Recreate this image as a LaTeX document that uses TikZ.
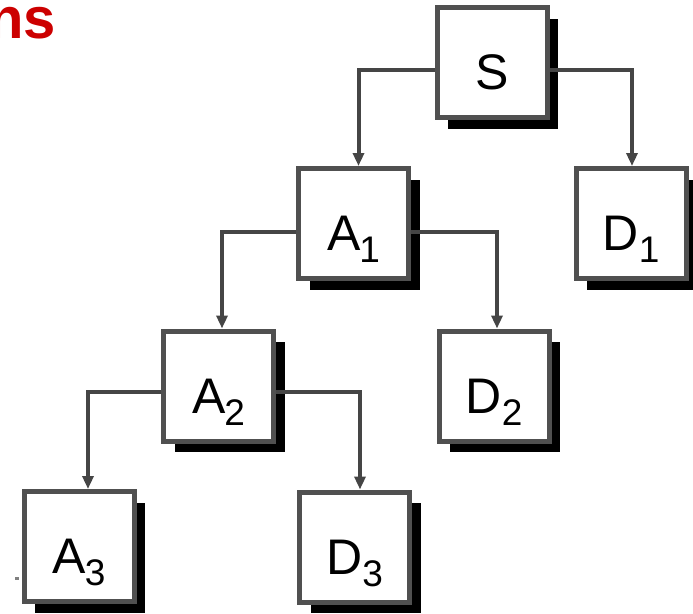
\documentclass[tikz,border=0pt]{standalone}
\usepackage{fontspec}
\setmainfont{Liberation Sans}
\usetikzlibrary{arrows.meta,shadows}
\definecolor{boxgray}{HTML}{505050}
\definecolor{linegray}{HTML}{454545}
\definecolor{titlered}{HTML}{CC0000}
\newcommand\subdig[1]{\raisebox{-12pt}{\fontsize{37}{40}\selectfont #1}}
\begin{document}
\begin{tikzpicture}[x=1pt,y=-1pt,
  box/.style={draw=boxgray,line width=5pt,fill=white,minimum width=110pt,minimum height=110pt,inner sep=0pt,
    drop shadow={shadow xshift=11pt,shadow yshift=-11pt,fill=black,opacity=1}},
  lbl/.style={anchor=base,inner sep=0pt,font=\fontsize{50}{55}\selectfont},
  conn/.style={draw=linegray,line width=4pt,-{Triangle[width=11pt,length=13pt]}},
]
\useasboundingbox (0,0) rectangle (693,613);
\node[anchor=base east,inner sep=0pt,text=titlered,font=\bfseries\fontsize{58}{60}\selectfont] (title) at (56,38) {ns};

\node[box] (S)  at (492,62.5) {};
\node[box] (A1) at (353.5,223.5) {};
\node[box] (D1) at (631,223.5) {};
\node[box] (A2) at (218.5,386) {};
\node[box] (D2) at (494,386) {};
\node[box] (A3) at (79,546.5) {};
\node[box] (D3) at (354.5,547) {};

\node[lbl] (tS)  at ([yshift=-27pt]S.center) {S};
\node[lbl] (tA1) at ([yshift=-27pt]A1.center) {A\kern-1pt\subdig{1}};
\node[lbl] (tD1) at ([yshift=-27pt]D1.center) {D\subdig{1}};
\node[lbl] (tA2) at ([yshift=-27pt]A2.center) {A\kern-1pt\subdig{2}};
\node[lbl] (tD2) at ([yshift=-27pt]D2.center) {D\subdig{2}};
\node[lbl] (tA3) at ([yshift=-27pt]A3.center) {A\kern-1pt\subdig{3}};
\node[lbl] (tD3) at ([yshift=-27pt]D3.center) {D\subdig{3}};

\draw[conn] ([yshift=-7pt]S.west) -| ([xshift=5pt]A1.north);
\draw[conn] ([yshift=-7pt]S.east) -| ([xshift=1pt]D1.north);
\draw[conn] ([yshift=-8pt]A1.west) -| ([xshift=3.5pt]A2.north);
\draw[conn] ([yshift=-8pt]A1.east) -| ([xshift=3pt]D2.north);
\draw[conn] ([yshift=-6pt]A2.west) -| ([xshift=9pt]A3.north);
\draw[conn] ([yshift=-6pt]A2.east) -| ([xshift=5.5pt]D3.north);

\fill[gray] (15,576.5) rectangle (19,579.5);
\end{tikzpicture}
\end{document}
